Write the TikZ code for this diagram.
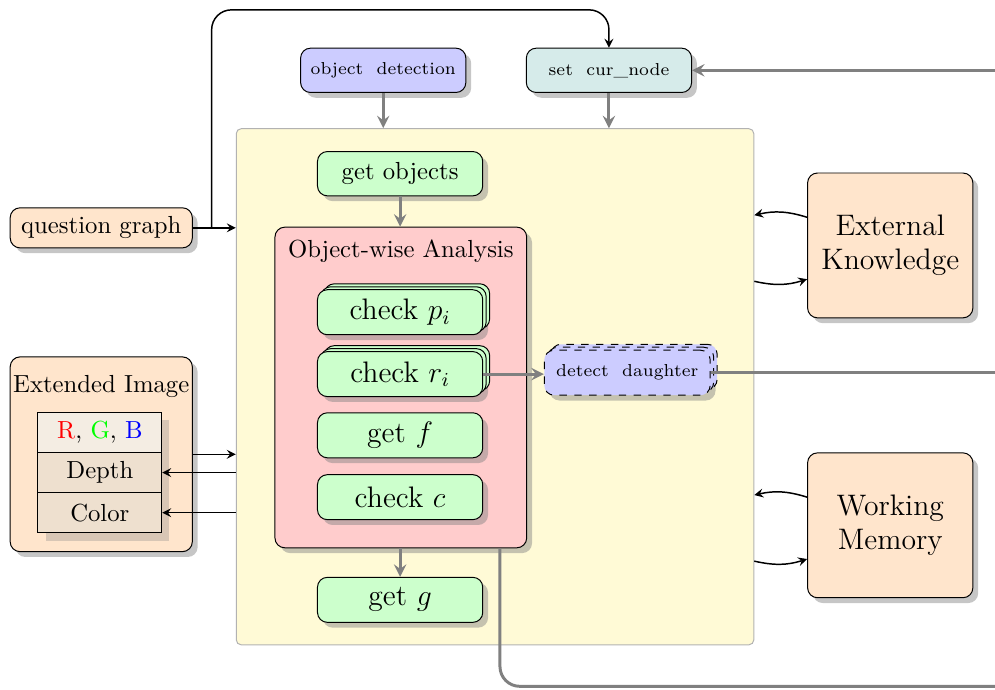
\documentclass[tikz,border=0pt]{standalone}
\usepackage{tikz}
\usetikzlibrary{positioning,shadows}

\definecolor{panelfill}{HTML}{FFFAD6}
\definecolor{curfill}{HTML}{D6EBEA}
\definecolor{cellA}{HTML}{F4EDE3}
\definecolor{cellB}{HTML}{EEE0CF}

\tikzset{
  shade/.style={drop shadow={opacity=0.45}},
  procbox/.style={draw, rounded corners=4pt, minimum width=2.35cm, minimum height=0.63cm, shade},
  checkbox/.style={procbox, fill=green!20, font=\large, minimum height=0.64cm},
  stackbox/.style={checkbox, double copy shadow={shadow xshift=1.4pt, shadow yshift=1.2pt}},
  cell/.style={draw, fill=cellB, minimum width=1.76cm, minimum height=0.57cm},
  flowarrow/.style={-stealth, line width=1.2pt, gray},
  flowline/.style={line width=1.2pt, gray},
  link/.style={-stealth, semithick}
}

\begin{document}
\begin{tikzpicture}
\useasboundingbox (0,0) rectangle (14.15,-9.80);
% main panel
\node[draw=gray!60, fill=panelfill, rounded corners=2pt, minimum width=7.36cm, minimum height=7.34cm] (main) at (7.04,-5.50) {};

% top row
\node[procbox, fill=blue!20, font=\scriptsize] (objdet) at (5.45,-1.00) {object~~detection};
\node[procbox, fill=curfill, font=\scriptsize] (setcur) at (8.66,-1.00) {set~~cur\_node};
\node[procbox, fill=orange!20, minimum width=2.59cm, minimum height=0.57cm] (qgraph) at (1.44,-3.24) {question graph};

% inside the panel
\node[procbox, fill=green!20] (getobj) at (5.69,-2.47) {get objects};
\node[draw, rounded corners=4pt, fill=red!20, shade, minimum width=3.58cm, minimum height=4.56cm] (owa) at (5.70,-5.51) {};
\node (owatitle) at (5.70,-3.57) {Object-wise Analysis};
\node[stackbox] (chkp) at (5.69,-4.44) {check $p_i$};
\node[stackbox] (chkr) at (5.69,-5.32) {check $r_i$};
\node[checkbox] (getf) at (5.69,-6.19) {get $f$};
\node[checkbox] (chkc) at (5.69,-7.07) {check $c$};
\node[checkbox] (getg) at (5.69,-8.53) {get $g$};
\node[procbox, fill=blue!20, dashed, double copy shadow={shadow xshift=1.4pt, shadow yshift=1.2pt}, font=\scriptsize, minimum width=2.36cm, minimum height=0.64cm] (detect) at (8.92,-5.30) {detect~~daughter};

% memories
\node[procbox, fill=orange!20, font=\large, align=center, minimum height=2.06cm] (extk) at (12.66,-3.49) {External\\Knowledge};
\node[procbox, fill=orange!20, font=\large, align=center, minimum height=2.06cm] (wmem) at (12.66,-7.47) {Working\\Memory};

% extended image
\node[procbox, fill=orange!20, minimum width=2.59cm, minimum height=2.77cm] (extimg) at (1.44,-6.46) {};
\node (imgtitle) at (1.44,-5.50) {Extended Image};
\node[fill=cellA, minimum width=1.76cm, minimum height=1.72cm, drop shadow={shadow xshift=0.11cm, shadow yshift=-0.11cm, opacity=0.3}] (tbl) at (1.42,-6.72) {};
\node[cell, fill=cellA] (rgb) at (1.42,-6.15) {\textcolor{red}{R}, \textcolor{green}{G}, \textcolor{blue}{B}};
\node[cell] (depth) at (1.42,-6.72) {Depth};
\node[cell] (color) at (1.42,-7.29) {Color};

% free ends
\coordinate (top) at (3.01,-0.14);
\coordinate (outcur) at (14.15,-1.00);
\coordinate (outdd) at (14.15,-5.29);
\coordinate (outbot) at (14.15,-9.76);

% gray flow
\draw[flowarrow] (objdet.south) -- (objdet.south |- main.north);
\draw[flowarrow] (setcur.south) -- (setcur.south |- main.north);
\draw[flowarrow] (outcur) -- (setcur.east);
\draw[flowarrow] (getobj.south) -- (getobj.south |- owa.north);
\draw[flowarrow] (owa.south -| getg) -- (getg.north);
\draw[flowarrow] (chkr.east) -- (chkr.east -| detect.west);
\draw[flowline] (detect.east) -- (detect.east -| outdd);
\draw[flowline, rounded corners=8pt] ([xshift=1.41cm]owa.south) |- (outbot);

% black links
\draw[link] (qgraph.east) -- (qgraph.east -| main.west);
\draw[link, rounded corners=8pt] (qgraph.east -| top) -- (top) -| (setcur.north);
\draw[link] (extimg.east) -- (extimg.east -| main.west);
\draw[link] (main.west |- depth.east) -- (depth.east);
\draw[link] (main.west |- color.east) -- (color.east);
\draw[link] ([yshift=0.40cm]extk.west) to[bend right=15] ([yshift=0.43cm]extk.west -| main.east);
\draw[link] ([yshift=-0.51cm]extk.west -| main.east) to[bend right=15] ([yshift=-0.48cm]extk.west);
\draw[link] ([yshift=0.40cm]wmem.west) to[bend right=15] ([yshift=0.43cm]wmem.west -| main.east);
\draw[link] ([yshift=-0.51cm]wmem.west -| main.east) to[bend right=15] ([yshift=-0.48cm]wmem.west);
\end{tikzpicture}
\end{document}
